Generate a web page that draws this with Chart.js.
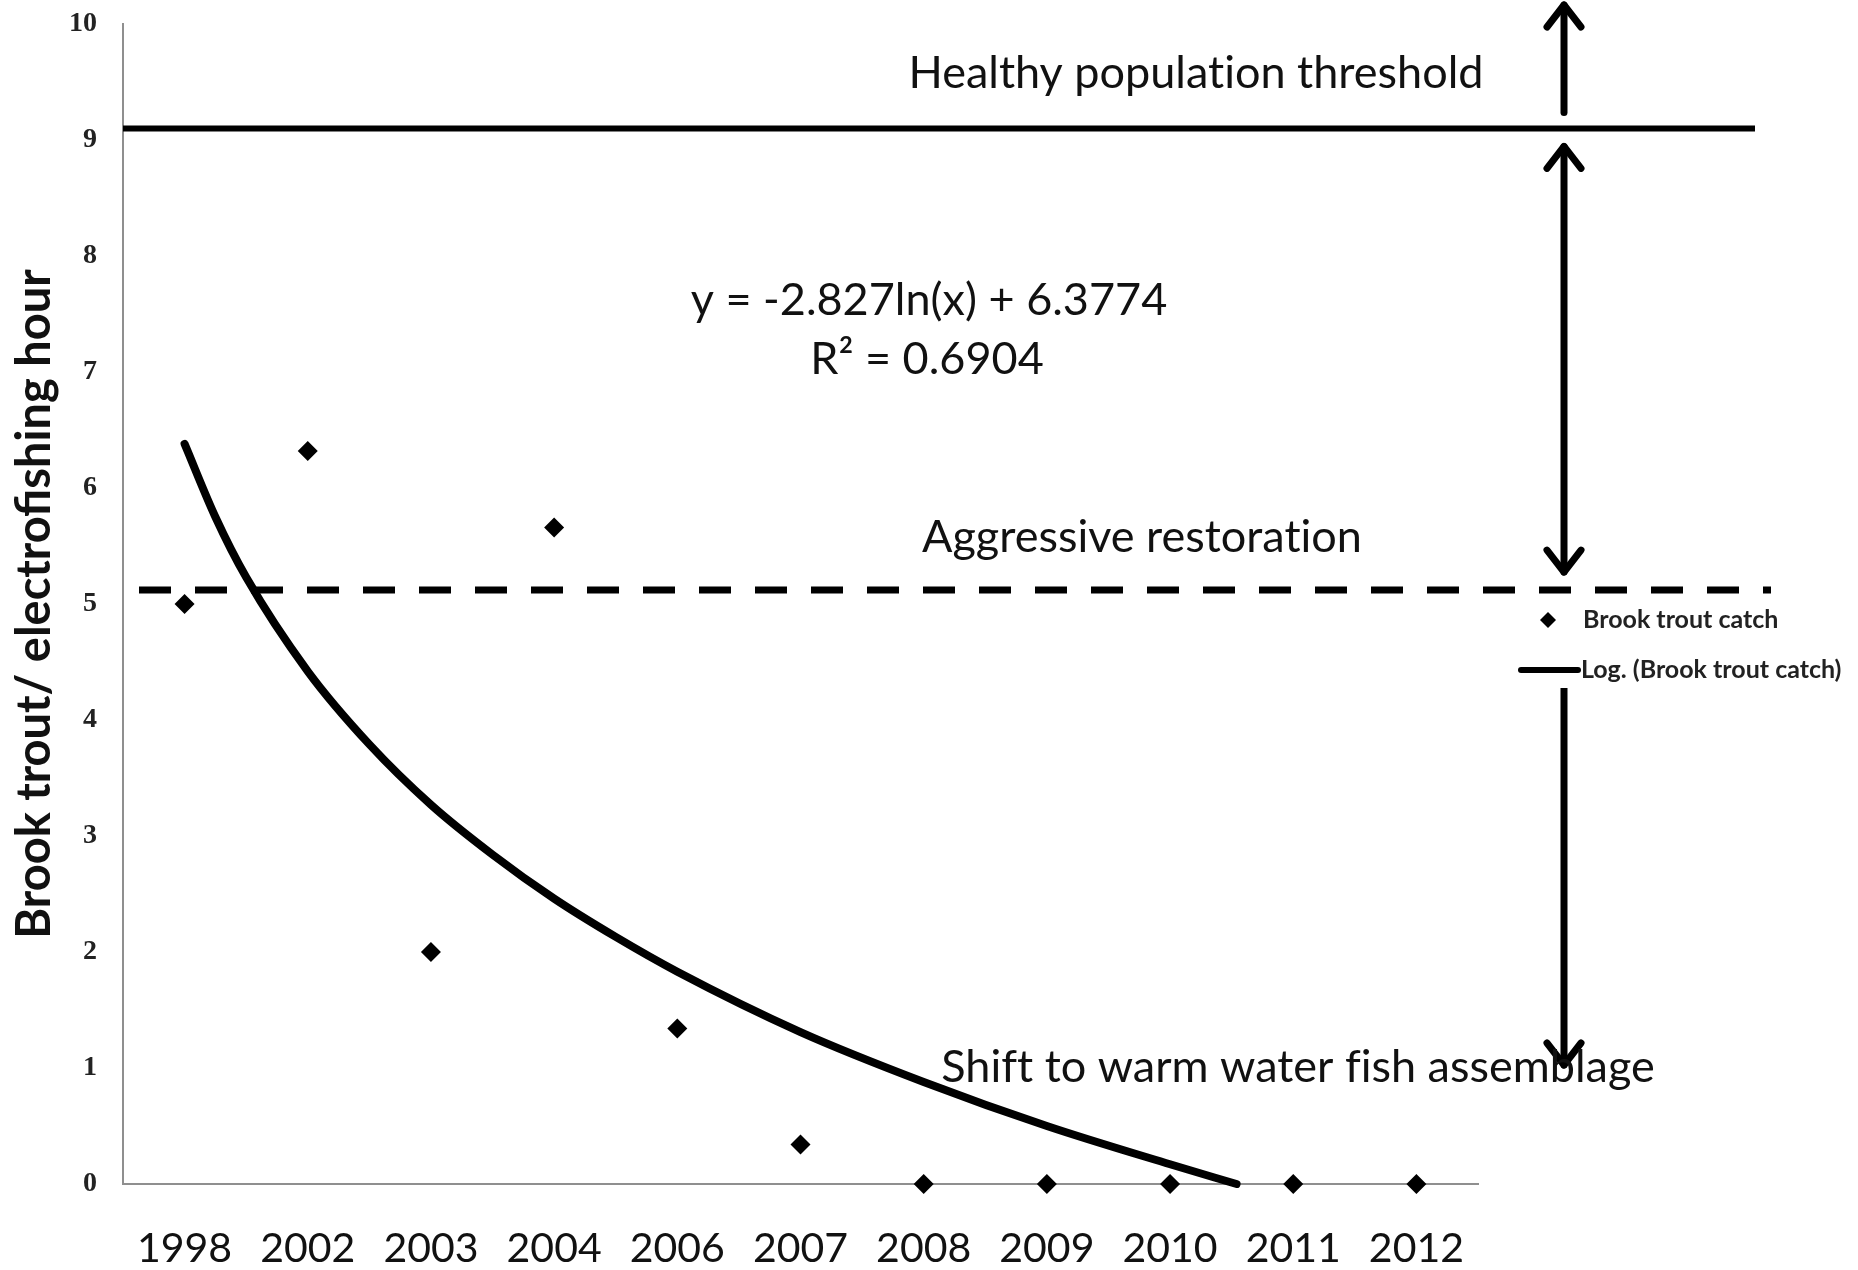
<!DOCTYPE html>
<html>
<head>
<meta charset="utf-8">
<script src="https://cdn.jsdelivr.net/npm/chart.js@4.4.1/dist/chart.umd.min.js"></script>
<style>
  html, body { margin: 0; padding: 0; background: #fff; }
  #wrap { width: 1858px; height: 1270px; }
</style>
</head>
<body>
<div id="wrap"><canvas id="chart" width="1858" height="1270"></canvas></div>
<script>
// categories and values
const years = ['1998', '2002', '2003', '2004', '2006', '2007', '2008', '2009', '2010', '2011', '2012'];
const troutCatch = [5.0, 6.32, 2.0, 5.66, 1.34, 0.34, 0, 0, 0, 0, 0];

// log trendline, sampled along the drawn curve (x = category position 1..11)
const trendX = [1, 1.25, 1.5, 2, 2.5, 3, 3.5, 4, 4.5, 5, 6, 7, 8, 9, 9.54];
const trendY = [6.38, 5.75, 5.23, 4.42, 3.79, 3.27, 2.84, 2.46, 2.13, 1.83, 1.31, 0.88, 0.50, 0.17, 0];

const healthyLevel = 9.1;
const restorationLevel = 5.12;

const equationText = 'y = -2.827ln(x) + 6.3774';
const rSquaredText = 'R\u00b2 = 0.6904';

const FONT = 'Lato, "Open Sans", sans-serif';

function drawArrow(ctx, x, y1, y2, headTop, headBottom) {
    ctx.beginPath();
    ctx.moveTo(x, y1);
    ctx.lineTo(x, y2);
    ctx.stroke();
    const hw = 17, hh = 22;
    if (headTop) {
        ctx.beginPath();
        ctx.moveTo(x - hw, y1 + hh);
        ctx.lineTo(x, y1);
        ctx.lineTo(x + hw, y1 + hh);
        ctx.stroke();
    }
    if (headBottom) {
        ctx.beginPath();
        ctx.moveTo(x - hw, y2 - hh);
        ctx.lineTo(x, y2);
        ctx.lineTo(x + hw, y2 - hh);
        ctx.stroke();
    }
}

// threshold lines, arrows, labels and legend
const annotations = {
    id: 'annotations',
    afterDatasetsDraw(chart) {
        const ctx = chart.ctx;
        const area = chart.chartArea;
        const y = chart.scales.y;
        const yHealthy = y.getPixelForValue(healthyLevel);
        const yRestore = y.getPixelForValue(restorationLevel);

        ctx.save();
        ctx.strokeStyle = '#000';
        ctx.fillStyle = '#000';

        // solid threshold line
        ctx.lineWidth = 6;
        ctx.beginPath();
        ctx.moveTo(area.left, yHealthy);
        ctx.lineTo(area.right + 277, yHealthy);
        ctx.stroke();

        // dashed restoration line
        ctx.setLineDash([32, 24]);
        ctx.lineWidth = 7;
        ctx.beginPath();
        ctx.moveTo(area.left + 16, yRestore);
        ctx.lineTo(area.right + 293, yRestore);
        ctx.stroke();
        ctx.setLineDash([]);

        // arrows
        const ax = area.right + 86;
        ctx.lineWidth = 7;
        ctx.lineCap = 'round';
        ctx.lineJoin = 'round';
        drawArrow(ctx, ax, 5, yHealthy - 16, true, false);
        drawArrow(ctx, ax, yHealthy + 18, yRestore - 18, true, true);
        ctx.lineCap = 'butt';
        ctx.beginPath();
        ctx.moveTo(ax, yRestore + 98);
        ctx.lineTo(ax, 1060);
        ctx.stroke();
        ctx.lineCap = 'round';
        drawArrow(ctx, ax, 1060, 1065, false, true);

        // annotation text
        ctx.textRendering = 'optimizeSpeed';
        ctx.font = '45px ' + FONT;
        ctx.textAlign = 'center';
        ctx.textBaseline = 'middle';
        ctx.fillStyle = '#111';
        ctx.fillText('Healthy population threshold', 1196, 73);
        ctx.fillText(equationText, 929, 300);
        ctx.fillText(rSquaredText, 927, 359);
        ctx.fillText('Aggressive restoration', 1142, 537);
        ctx.fillText('Shift to warm water fish assemblage', 1298, 1067);

        // legend
        const lx = 1548;
        ctx.fillStyle = '#000';
        ctx.beginPath();
        ctx.moveTo(lx, 612);
        ctx.lineTo(lx + 8, 620);
        ctx.lineTo(lx, 628);
        ctx.lineTo(lx - 8, 620);
        ctx.closePath();
        ctx.fill();
        ctx.lineWidth = 6;
        ctx.beginPath();
        ctx.moveTo(1521, 670);
        ctx.lineTo(1578, 670);
        ctx.stroke();
        ctx.font = 'bold 25px ' + FONT;
        ctx.textAlign = 'left';
        ctx.fillStyle = '#222';
        ctx.fillText('Brook trout catch', 1583, 620);
        ctx.fillText('Log. (Brook trout catch)', 1581, 670);
        ctx.restore();
    }
};

new Chart(document.getElementById('chart').getContext('2d'), {
    type: 'scatter',
    data: {
        datasets: [
            {
                label: 'Log. (Brook trout catch)',
                type: 'line',
                data: trendX.map((x, i) => ({ x: x, y: trendY[i] })),
                borderColor: '#000',
                borderWidth: 8,
                borderCapStyle: 'round',
                cubicInterpolationMode: 'monotone',
                pointRadius: 0,
                fill: false,
                clip: false
            },
            {
                label: 'Brook trout catch',
                data: troutCatch.map((v, i) => ({ x: i + 1, y: v })),
                backgroundColor: '#000',
                borderColor: '#000',
                pointStyle: 'rectRot',
                pointRadius: 10,
                borderWidth: 0,
                clip: false
            }
        ]
    },
    options: {
        responsive: false,
        animation: false,
        devicePixelRatio: 1,
        layout: { autoPadding: false, padding: { left: 0, top: 24, right: 380, bottom: 0 } },
        plugins: {
            legend: { display: false },
            tooltip: { enabled: false }
        },
        scales: {
            x: {
                type: 'linear',
                min: 0.5,
                max: 11.5,
                afterFit(scale) {
                    scale.height = 86;
                    scale.paddingLeft = 0;
                    scale.paddingRight = 0;
                },
                afterBuildTicks(scale) {
                    scale.ticks = years.map((y, i) => ({ value: i + 1 }));
                },
                grid: { display: false, drawTicks: false },
                border: { display: true, color: '#8f8f8f', width: 2 },
                ticks: {
                    autoSkip: false,
                    maxRotation: 0,
                    padding: 40,
                    color: '#111',
                    font: { family: FONT, size: 41 },
                    callback: (v) => years[Math.round(v) - 1]
                }
            },
            y: {
                min: 0,
                max: 10,
                afterFit(scale) {
                    scale.width = 123;
                    scale.paddingTop = 0;
                    scale.paddingBottom = 0;
                },
                grid: { display: false, drawTicks: false },
                border: { display: true, color: '#8f8f8f', width: 2 },
                ticks: {
                    stepSize: 1,
                    padding: 26,
                    color: '#222',
                    font: { family: '"Liberation Serif", serif', size: 28, weight: 'bold' }
                },
                title: {
                    display: true,
                    text: 'Brook trout/ electrofishing hour',
                    color: '#111',
                    padding: { top: 7, bottom: 0 },
                    font: { family: FONT, size: 47, weight: 'bold' }
                }
            }
        }
    },
    plugins: [annotations]
});
</script>
</body>
</html>
